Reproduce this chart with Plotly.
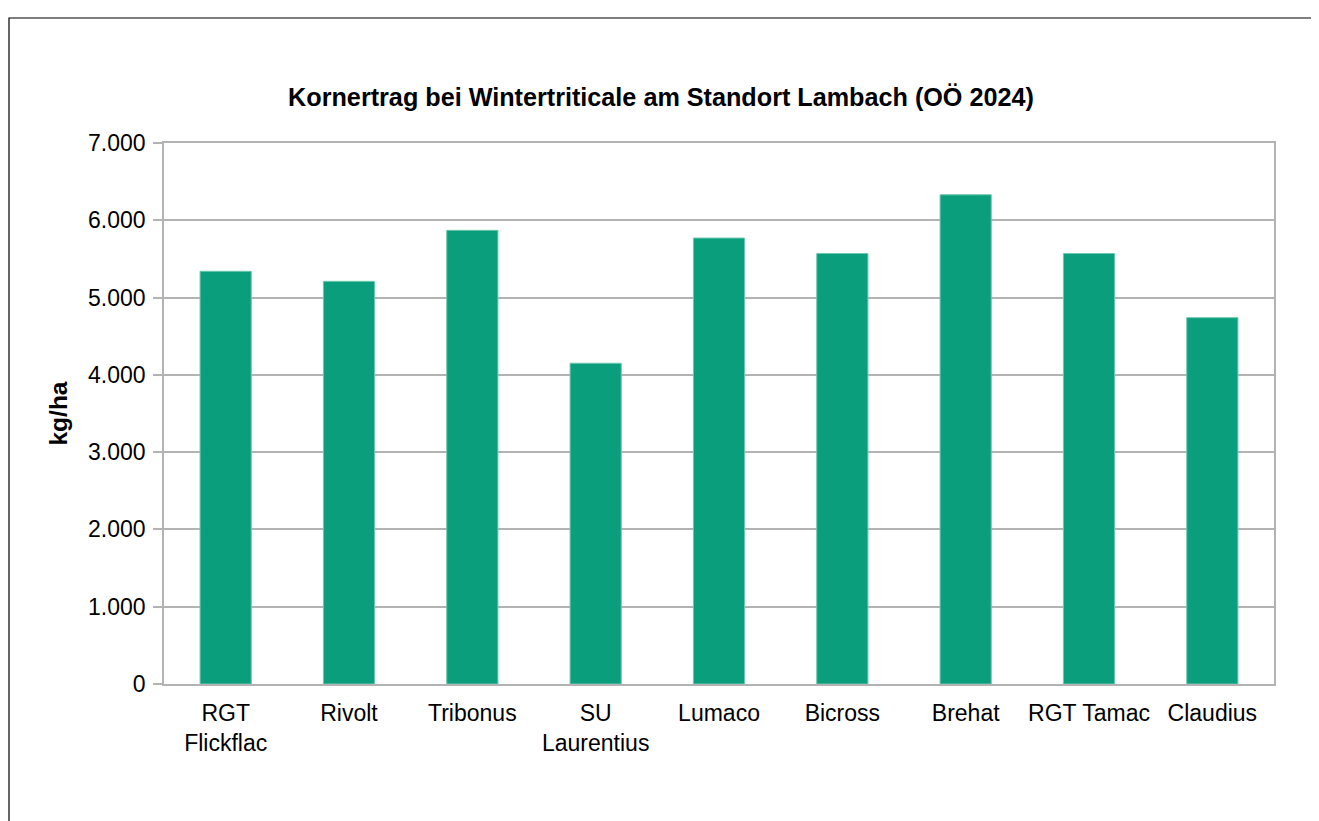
import plotly.graph_objects as go

categories = ["RGT<br>Flickflac", "Rivolt", "Tribonus", "SU<br>Laurentius", "Lumaco",
              "Bicross", "Brehat", "RGT Tamac", "Claudius"]
yield_kg_ha = [5340, 5210, 5870, 4150, 5770, 5570, 6330, 5570, 4740]
y_tick_vals = [0, 1000, 2000, 3000, 4000, 5000, 6000, 7000]
y_tick_text = ["0", "1.000", "2.000", "3.000", "4.000", "5.000", "6.000", "7.000"]

FONT = "Liberation Sans, Arial, Helvetica, sans-serif"

fig = go.Figure(go.Bar(
    x=categories, y=yield_kg_ha,
    marker=dict(color="#0b9e7c", line=dict(color="#6cc8ae", width=1)),
))

# page body has an 8px margin; figure is sized to fit the 1319x821 window
OFF = 8
W, H = 1319 - OFF, 821 - OFF
L, T = 164 - OFF, 143 - OFF
R = W - (1274 - OFF)
B = H - (684 - OFF)
pw, ph = W - L - R, H - T - B

fig.update_layout(
    width=W, height=H,
    margin=dict(l=L, r=R, t=T, b=B),
    paper_bgcolor="white", plot_bgcolor="white",
    bargap=0.585,
    showlegend=False,
    title=dict(text="<b>Kornertrag bei Wintertriticale am Standort Lambach (OÖ 2024)</b>",
               x=(661 - OFF) / W, xref="container", xanchor="center",
               y=1 - (97 - OFF) / H, yref="container", yanchor="middle",
               font=dict(family=FONT, size=25.2, color="black")),
    font=dict(family=FONT, size=23, color="black"),
    xaxis=dict(showline=True, linecolor="#b3b3b3", linewidth=1.5, mirror=True,
               ticks="", tickfont=dict(size=23, color="black"), showgrid=False,
               ticklabelstandoff=8),
    yaxis=dict(range=[0, 7000], tickvals=y_tick_vals, ticktext=y_tick_text,
               showgrid=True, gridcolor="#b3b3b3", gridwidth=1.5,
               showline=True, linecolor="#b3b3b3", linewidth=1.5, mirror=True,
               ticks="outside", ticklen=9, tickcolor="#b3b3b3", tickwidth=1.5,
               tickfont=dict(size=23, color="black"), zeroline=False,
               ticklabelstandoff=3,
               title=dict(text="<b>kg/ha</b>", font=dict(size=24.5, color="black"), standoff=14)),
    shapes=[dict(type="rect", xref="paper", yref="paper",
                 x0=(9 - OFF - L) / pw, x1=(W + 10 - L) / pw,
                 y0=(H - B - (H + 10)) / ph, y1=(H - B - (18 - OFF)) / ph,
                 line=dict(color="black", width=1.2), fillcolor="rgba(0,0,0,0)", layer="below")],
)

fig.write_html("out.html")
